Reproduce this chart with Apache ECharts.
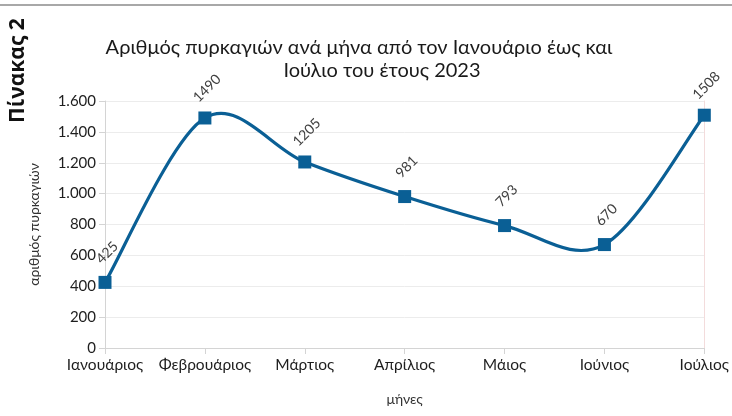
<!DOCTYPE html>
<html>
<head>
<meta charset="utf-8">
<script src="https://cdn.jsdelivr.net/npm/echarts@6/dist/echarts.min.js"></script>
<style>
  html, body { margin: 0; padding: 0; background: #fff; }
  #container { width: 732px; height: 416px; }
</style>
</head>
<body>
<div id="container"></div>
<script>
// months on the x axis
var months = ['Ιανουάριος', 'Φεβρουάριος', 'Μάρτιος', 'Απρίλιος', 'Μάιος', 'Ιούνιος', 'Ιούλιος'];
// number of fires per month
var fires = [425, 1490, 1205, 981, 793, 670, 1508];

var titleLine1 = 'Αριθμός πυρκαγιών ανά μήνα από τον Ιανουάριο έως και';
var titleLine2 = 'Ιούλιο του έτους 2023';
var sideLabel = 'Πίνακας 2';

var FONT = 'Lato';
var lineColor = '#0a5f95';

var element = document.getElementById('container');
var myChart = echarts.init(element, null, { renderer: 'canvas' });

// 1.600 style thousands separator
function fmtThousands(v) {
    return String(v).replace(/\B(?=(\d{3})+(?!\d))/g, '.');
}

// spreadsheet style smoothed line: catmull-rom segment from point i to i+1
function renderSmoothSegment(params, api) {
    var i = params.dataIndex;
    var n = fires.length;
    if (i >= n - 1) return null;
    var pt = function (k) {
        k = Math.max(0, Math.min(n - 1, k));
        return api.coord([k, fires[k]]);
    };
    var p0 = pt(i - 1), p1 = pt(i), p2 = pt(i + 1), p3 = pt(i + 2);
    return {
        type: 'bezierCurve',
        shape: {
            x1: p1[0], y1: p1[1],
            x2: p2[0], y2: p2[1],
            cpx1: p1[0] + (p2[0] - p0[0]) / 6, cpy1: p1[1] + (p2[1] - p0[1]) / 6,
            cpx2: p2[0] - (p3[0] - p1[0]) / 6, cpy2: p2[1] - (p3[1] - p1[1]) / 6
        },
        style: { stroke: lineColor, lineWidth: 3.2, fill: null, lineCap: 'round' }
    };
}

var option = {
    backgroundColor: '#fff',
    animation: false,
    title: [
        {
            text: titleLine1,
            left: 354, top: 33, textAlign: 'center',
            textStyle: { fontFamily: FONT, fontSize: 20, fontWeight: 'normal', color: '#1a1a1a' }
        },
        {
            text: titleLine2,
            left: 377, top: 56, textAlign: 'center',
            textStyle: { fontFamily: FONT, fontSize: 20, fontWeight: 'normal', color: '#1a1a1a' }
        }
    ],
    graphic: [
        {
            type: 'line',
            shape: { x1: 0, y1: 5, x2: 732, y2: 5 },
            style: { stroke: '#a8a8a8', lineWidth: 2 }
        },
        {
            type: 'text',
            x: 8, y: 123, rotation: Math.PI / 2,
            style: {
                text: sideLabel,
                fontFamily: 'Open Sans', fontSize: 21, fontWeight: 'bold',
                fill: '#111', textAlign: 'left', textVerticalAlign: 'top'
            }
        }
    ],
    grid: { left: 105, right: 20, top: 101, bottom: 68 },
    xAxis: {
        type: 'category',
        data: months,
        boundaryGap: false,
        name: 'μήνες',
        nameLocation: 'middle',
        nameGap: 44,
        nameTextStyle: { fontFamily: FONT, fontSize: 14, color: '#333' },
        axisLine: { lineStyle: { color: '#d4d4d4', width: 1 } },
        axisTick: { show: true, length: 6, lineStyle: { color: '#d4d4d4' } },
        axisLabel: { fontFamily: FONT, fontSize: 15.5, color: '#1e1e1e', margin: 9, interval: 0 },
        splitLine: { show: false }
    },
    yAxis: [
        {
            type: 'value',
            min: 0, max: 1600, interval: 200,
            name: 'αριθμός πυρκαγιών',
            nameLocation: 'middle',
            nameGap: 64,
            nameTextStyle: { fontFamily: FONT, fontSize: 14, color: '#333' },
            axisLine: { show: true, lineStyle: { color: '#d4d4d4' } },
            axisTick: { show: true, length: 6, lineStyle: { color: '#d4d4d4' } },
            axisLabel: {
                fontFamily: FONT, fontSize: 15, color: '#1e1e1e', margin: 9,
                formatter: fmtThousands
            },
            splitLine: { lineStyle: { color: '#ececec', width: 1 } }
        },
        {
            type: 'value',
            position: 'right',
            min: 0, max: 1600, interval: 200,
            axisLine: { show: true, lineStyle: { color: '#f3dcdc' } },
            axisTick: { show: false },
            axisLabel: { show: false },
            splitLine: { show: false }
        }
    ],
    series: [
        {
            name: 'καμπύλη',
            type: 'custom',
            renderItem: renderSmoothSegment,
            data: fires.map(function (v, i) { return [i, v]; }),
            encode: { x: 0, y: 1 },
            z: 2
        },
        {
            name: 'πυρκαγιές',
            type: 'line',
            data: fires,
            symbol: 'rect',
            symbolSize: 13,
            lineStyle: { width: 0, opacity: 0 },
            itemStyle: { color: lineColor },
            z: 3,
            label: {
                show: true,
                position: 'top',
                distance: 21,
                offset: [3, 0],
                rotate: 45,
                align: 'center',
                verticalAlign: 'middle',
                fontFamily: FONT,
                fontSize: 14,
                color: '#404040'
            }
        }
    ]
};

myChart.setOption(option);
</script>
</body>
</html>
